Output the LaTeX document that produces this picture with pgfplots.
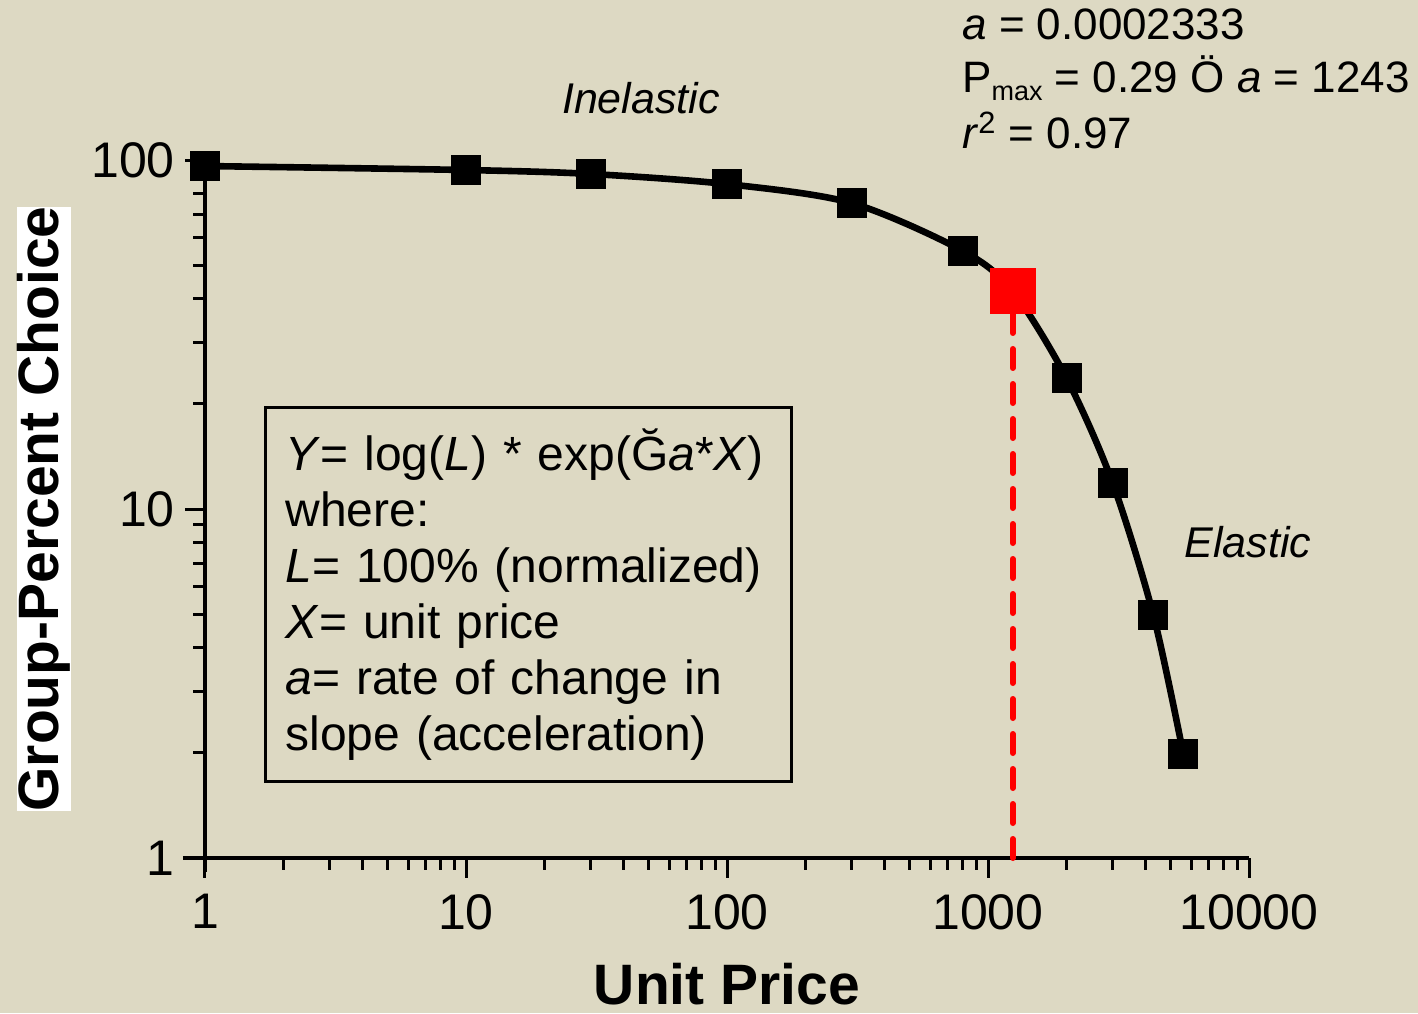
\documentclass[border=0pt]{standalone}
\usepackage{pgfplots}
\pgfplotsset{compat=1.18}
\usepackage{fontspec}
\setmainfont{Liberation Sans}
\definecolor{bg}{HTML}{DDD9C3}
\begin{document}
\begin{tikzpicture}
\path[fill=bg, use as bounding box] (-102.5pt,-77.5pt) rectangle (606.5pt,429pt);
\draw[line width=2pt] (-11pt,0) -- (0,0) -- (0,-7pt);
\begin{axis}[
  at={(0,0)}, anchor=south west,
  scale only axis, width=522pt, height=349pt,
  xmode=log, ymode=log,
  xmin=1, xmax=10000, ymin=1, ymax=100,
  axis x line*=bottom, axis y line*=left,
  axis line style={line width=2pt, black},
  tick align=outside,
  major tick length=10pt, minor tick length=6pt,
  tick style={line width=1.5pt, black},
  xtick={1,10,100,1000,10000},
  xticklabels={1,10,100,1000,10000},
  ytick={1,10,100},
  yticklabels={1,10,100},
  ticklabel style={font=\fontsize{25}{30}\selectfont},
  xticklabel style={anchor=north, inner sep=0pt, yshift=-8pt},
  yticklabel style={anchor=east, inner sep=0pt, xshift=-5pt},
  xlabel={Unit Price},
  ylabel={Group-Percent Choice},
  xlabel style={at={(axis description cs:0.5,0)}, anchor=base, inner sep=0pt, yshift=-73pt, font=\bfseries\fontsize{28.5}{32}\selectfont},
  ylabel style={at={(axis description cs:-0.1542,0.5)}, anchor=center, fill=white, inner sep=0pt, font=\bfseries\fontsize{28.5}{32}\selectfont},
  clip=false,
]
\addplot[red, line width=3pt, line cap=round, dash pattern=on 9.5pt off 8pt] coordinates {(1243,1) (1243,39)};
\addplot[black, line width=3.3pt, smooth, mark=square*, mark size=7pt, mark options={solid, line width=1pt}] coordinates {
(1,96.1) (10,93.6) (30,91.2) (100,85.3) (300,75.3) (800,54.9) (1243,42.1) (2000,23.7) (3000,11.9) (4300,4.97) (5600,1.99)};
\addplot[only marks, mark=square*, mark size=11pt, red, mark options={rounded corners=2pt, fill=red, draw=red, line width=1pt}] coordinates {(1243,42.1)};
\node[draw, line width=1.5pt, anchor=north west, inner xsep=10pt, inner ysep=8pt, align=left, text width=243pt, minimum height=187pt, font=\fontsize{24}{28}\selectfont] at (rel axis cs:0.0565,0.6476) {%
\textit{Y}= log(\textit{L}) * exp(Ğ\textit{a}*\textit{X})\\
where:\\
\textit{L}= 100\% (normalized)\\
\textit{X}= unit price\\
\textit{a}= rate of change in\\
slope (acceleration)};
\node[anchor=base, font=\itshape\fontsize{21.5}{26}\selectfont] at (rel axis cs:0.4176,1.067) {Inelastic};
\node[anchor=base, font=\itshape\fontsize{21.5}{26}\selectfont] at (rel axis cs:0.999,0.43) {Elastic};
\node[anchor=base west, inner sep=0pt, font=\fontsize{22}{27}\selectfont] at (rel axis cs:0.725,1.172) {\textit{a} = 0.0002333};
\node[anchor=base west, inner sep=0pt, font=\fontsize{22}{27}\selectfont] at (rel axis cs:0.725,1.096) {P\raisebox{-4pt}{\fontsize{13.5}{14}\selectfont max} = 0.29 Ö \textit{a} = 1243};
\node[anchor=base west, inner sep=0pt, font=\fontsize{22}{27}\selectfont] at (rel axis cs:0.725,1.017) {\textit{r}\textsuperscript{2} = 0.97};
\end{axis}
\end{tikzpicture}
\end{document}
